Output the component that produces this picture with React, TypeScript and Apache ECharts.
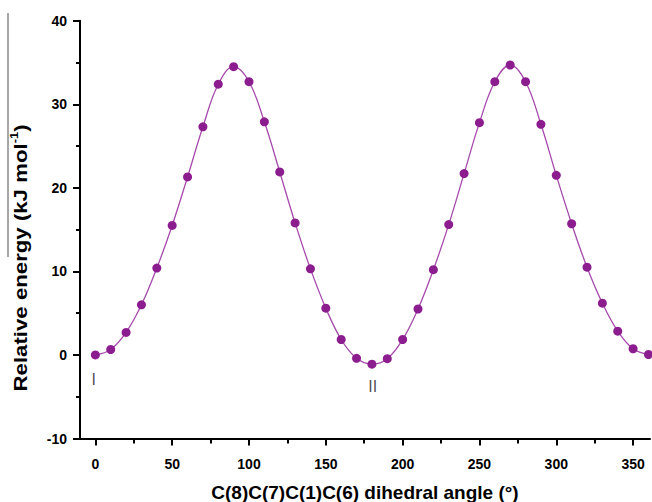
import React, { useEffect, useRef } from "react";
import * as echarts from "echarts";

const angles = [0, 10, 20, 30, 40, 50, 60, 70, 80, 90, 100, 110, 120, 130, 140, 150, 160, 170, 180, 190, 200, 210, 220, 230, 240, 250, 260, 270, 280, 290, 300, 310, 320, 330, 340, 350, 360];
const energies = [0, 0.65, 2.7, 6.0, 10.4, 15.5, 21.3, 27.3, 32.4, 34.5, 32.7, 27.9, 21.9, 15.8, 10.3, 5.6, 1.85, -0.4, -1.1, -0.45, 1.85, 5.5, 10.2, 15.6, 21.7, 27.8, 32.7, 34.7, 32.7, 27.6, 21.5, 15.7, 10.5, 6.2, 2.85, 0.74, 0.05];
const majorXTicks = [0, 50, 100, 150, 200, 250, 300, 350];
const minorXTicks = [25, 75, 125, 175, 225, 275, 325];
const annotationNames = ["I", "II"];
const annotationX = [-1, 180.5];
const annotationY = [-2.9, -3.8];

const FONT = "'Liberation Sans', Arial, sans-serif";

export default function App() {
  const ref = useRef<HTMLDivElement>(null);
  useEffect(() => {
    if (!ref.current) return;
    const chart = echarts.init(ref.current, null, { renderer: "svg" });
    const axisLine = { show: true, onZero: false, lineStyle: { color: "#000", width: 2 } };
    chart.setOption({
      animation: false,
      backgroundColor: "#fff",
      grid: { left: 80, right: 2, top: 20.7, bottom: 63.5, containLabel: false, outerBoundsMode: "none" },
      xAxis: [
        {
          type: "value",
          min: -10,
          max: 361,
          axisLine,
          axisTick: { show: true, customValues: majorXTicks, length: 7, lineStyle: { color: "#000", width: 2 } },
          axisLabel: { show: true, customValues: majorXTicks, margin: 18, fontSize: 14, fontWeight: "bold", fontFamily: FONT, color: "#000" },
          splitLine: { show: false },
          name: "C(8)C(7)C(1)C(6) dihedral angle (°)",
          nameLocation: "middle",
          nameGap: 44,
          nameTextStyle: { fontSize: 19, fontWeight: "bold", fontFamily: FONT, color: "#000" },
        },
        {
          type: "value",
          min: -10,
          max: 361,
          position: "bottom",
          axisLine: { show: false, onZero: false },
          axisTick: { show: true, customValues: minorXTicks, length: 5, lineStyle: { color: "#000", width: 2 } },
          axisLabel: { show: false },
          splitLine: { show: false },
        },
      ],
      yAxis: {
        type: "value",
        min: -10,
        max: 40,
        interval: 10,
        axisLine,
        axisTick: { show: true, length: 7, lineStyle: { color: "#000", width: 2 } },
        minorTick: { show: true, splitNumber: 2, length: 4, lineStyle: { color: "#000", width: 2 } },
        axisLabel: { margin: 13, fontSize: 14, fontWeight: "bold", fontFamily: FONT, color: "#000" },
        splitLine: { show: false },
      },
      graphic: [
        {
          type: "line",
          shape: { x1: 8, y1: 13, x2: 8, y2: 257 },
          style: { stroke: "#8a8a8a", lineWidth: 1.5 },
        },
        {
          type: "text",
          x: 20,
          y: 258,
          rotation: Math.PI / 2,
          scaleX: 1.17,
          style: {
            text: "{a|Relative energy (kJ mol}{s|-1}{a|)}",
            align: "center",
            verticalAlign: "middle",
            rich: {
              a: { fontSize: 19, fontWeight: "bold", fontFamily: FONT, fill: "#000", lineHeight: 22 },
              s: { fontSize: 11, fontWeight: "bold", fontFamily: FONT, fill: "#000", verticalAlign: "top", lineHeight: 22, padding: [0, 0, 8, 0] },
            },
          },
        },
      ],
      series: [
        {
          type: "line",
          xAxisIndex: 0,
          data: angles.map((a, i) => [a, energies[i]]),
          smooth: 0.4,
          symbol: "circle",
          symbolSize: 9,
          itemStyle: { color: "#8B1D8F" },
          lineStyle: { color: "#A64AAB", width: 1.3 },
        },
        {
          type: "scatter",
          xAxisIndex: 0,
          symbolSize: 0,
          data: annotationNames.map((n, i) => ({ name: n, value: [annotationX[i], annotationY[i]] })),
          label: {
            show: true,
            position: "inside",
            formatter: (p: any) => p.name,
            fontSize: 16,
            fontFamily: FONT,
            color: "#222",
          },
        },
      ],
    });
    return () => chart.dispose();
  }, []);
  return (
    <div
      ref={ref}
      style={{ position: "absolute", left: 0, top: 0, width: 652, height: 502, background: "#fff" }}
    />
  );
}
